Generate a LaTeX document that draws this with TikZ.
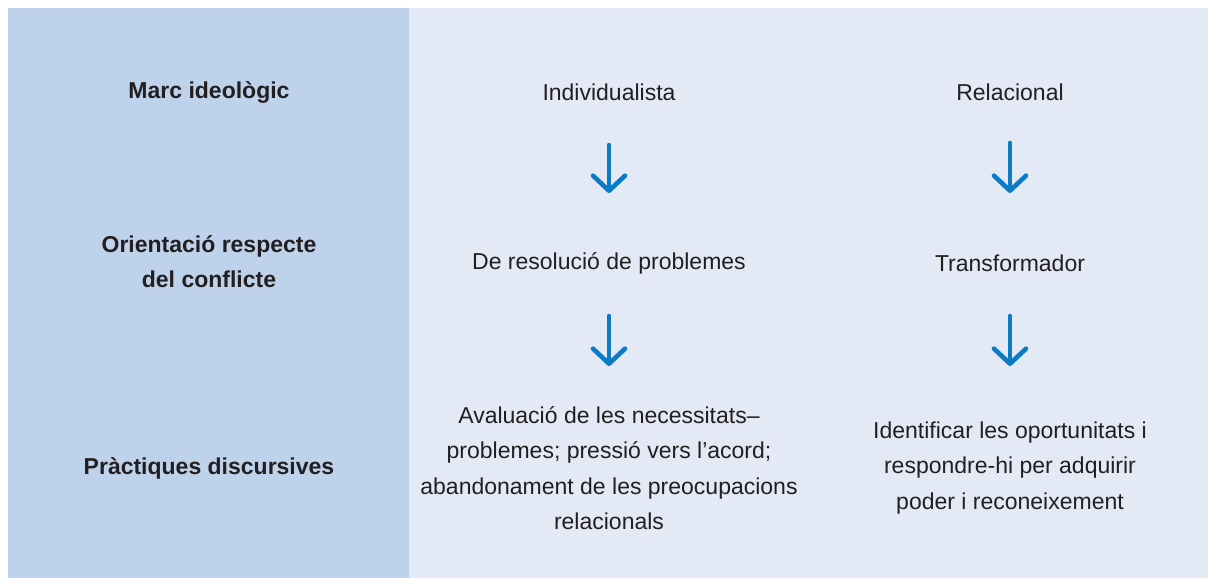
\documentclass[tikz,border=0pt]{standalone}
\usepackage{fontspec}
\setmainfont{Liberation Sans}
\usetikzlibrary{arrows.meta}
\definecolor{leftbg}{HTML}{BED2EB}
\definecolor{rightbg}{HTML}{E3EAF6}
\definecolor{arrowblue}{HTML}{0A7BC4}
\definecolor{txt}{HTML}{231F20}
\tikzset{
  lbl/.style={text=txt, font=\fontsize{23}{35}\selectfont\bfseries, align=center, inner sep=0pt},
  cell/.style={text=txt, font=\fontsize{23}{35.5}\selectfont, align=center, inner sep=0pt},
  downarrow/.style={draw=arrowblue, line width=4.6pt, line cap=round,
    -{Straight Barb[length=15pt, width=32pt, line width=4.6pt, round]}}
}
\begin{document}
\begin{tikzpicture}[x=1pt,y=-1pt]
\useasboundingbox (0,0) rectangle (1208,578);
\fill[rightbg] (409,8) rectangle (1208,578);
\fill[leftbg] (8,8) rectangle (409,578);
\node[lbl] (h1) at (209,92.5) {Marc ideològic};
\node[lbl] (h2) at (209,262) {Orientació respecte\\del conflicte};
\node[lbl] (h3) at (209,468) {Pràctiques discursives};
\node[cell] (a1) at (609,92) {Individualista};
\node[cell] (a2) at (609,263) {De resolució de problemes};
\node[cell] (a3) at (609,468) {Avaluació de les necessitats–\\problemes; pressió vers l’acord;\\abandonament de les preocupacions\\relacionals};
\node[cell] (b1) at (1010,92) {Relacional};
\node[cell] (b2) at (1010,263) {Transformador};
\node[cell] (b3) at (1010,468) {Identificar les oportunitats i\\respondre-hi per adquirir\\poder i reconeixement};
\coordinate (a1s) at (609,145); \coordinate (a1e) at (609,193);
\coordinate (a2s) at (609,316); \coordinate (a2e) at (609,366);
\coordinate (b1s) at (1010,143); \coordinate (b1e) at (1010,193);
\coordinate (b2s) at (1010,316); \coordinate (b2e) at (1010,366);
\draw[downarrow] (a1s) -- (a1e);
\draw[downarrow] (a2s) -- (a2e);
\draw[downarrow] (b1s) -- (b1e);
\draw[downarrow] (b2s) -- (b2e);
\end{tikzpicture}
\end{document}
